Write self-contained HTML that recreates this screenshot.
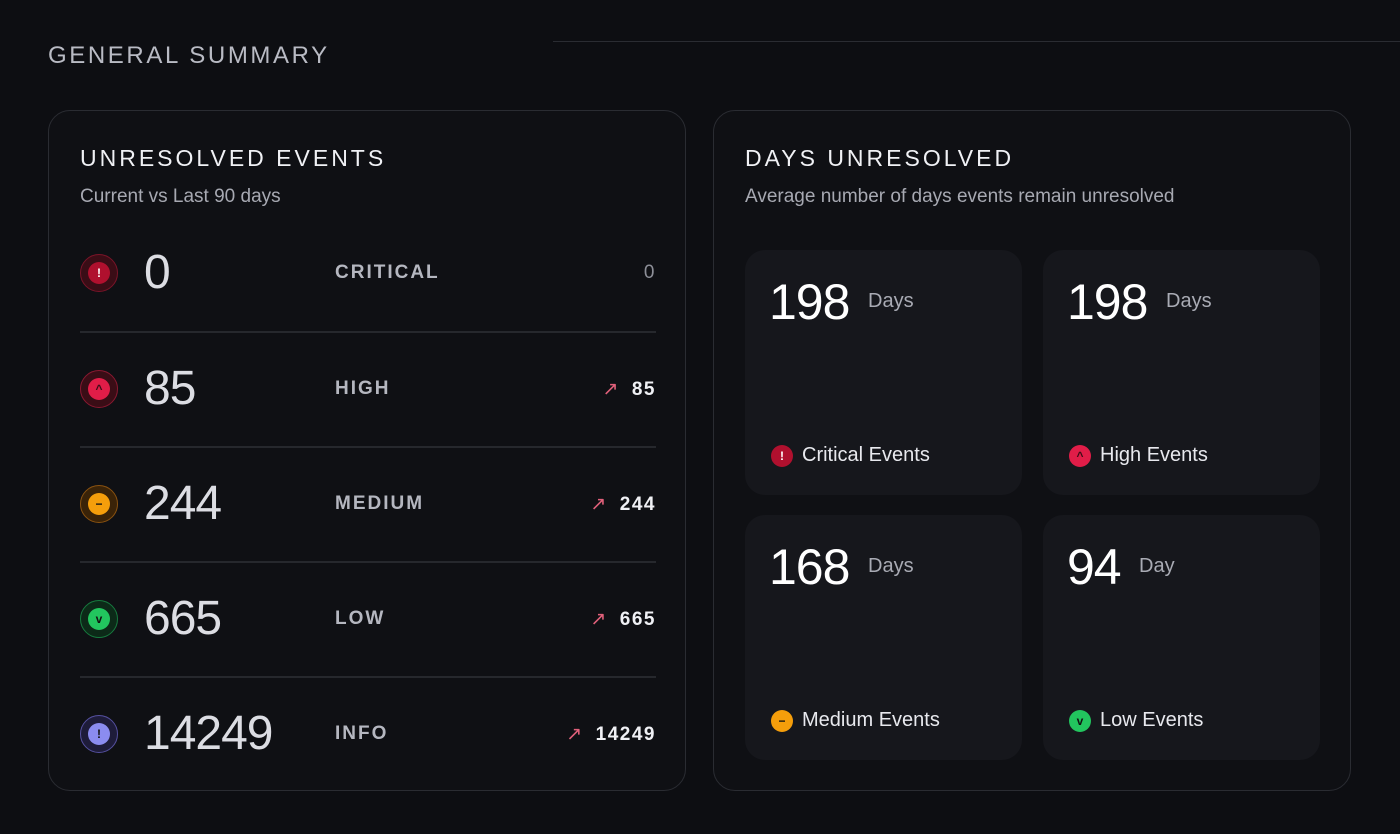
<!DOCTYPE html>
<html><head><meta charset="utf-8"><style>
*{margin:0;padding:0;box-sizing:border-box}
html{width:1400px;height:834px;overflow:hidden;background:#0d0e12}
body{width:1400px;height:834px;background:#0d0e12;font-family:"Liberation Sans",sans-serif;position:relative;overflow:hidden;color:#e6e7ec}
.abs{position:absolute}
.title{font-size:24px;letter-spacing:2.6px;color:#b9bbc4;left:48px;top:42px}
.card{position:absolute;top:110px;width:638px;height:681px;border:1.5px solid #2a2c32;border-radius:22px;background:#0f1014}
.h{position:absolute;left:31px;top:34px;font-size:23px;letter-spacing:3px;color:#f0f1f5}
.sub{position:absolute;left:31px;top:75px;font-size:19px;color:#a7a9b2}
.row{position:absolute;left:31px;width:576px;height:115px}
.row .ic{position:absolute;left:0;top:-19px;width:38px;height:38px;border-radius:50%;display:flex;align-items:center;justify-content:center}
.row .ic span{width:22px;height:22px;border-radius:50%;display:flex;align-items:center;justify-content:center;font-size:12px;font-weight:bold;color:#111}
.num{position:absolute;left:64px;top:-28px;font-size:48px;color:#dcdde3;line-height:56px;letter-spacing:-1px}
.lab{position:absolute;left:255px;top:-11px;font-size:19px;letter-spacing:2px;color:#b5b7c0;font-weight:bold}
.tr{position:absolute;right:0;top:-11px;font-size:19px;letter-spacing:1.5px;color:#f0f1f5;font-weight:bold}
.tr i{font-style:normal;color:#e0607a;margin-right:12px;font-weight:normal}
.div{position:absolute;left:31px;width:576px;height:1.5px;background:#26282d}
.tile{position:absolute;width:277px;height:245px;background:#16171c;border-radius:20px}
.tile .n{position:absolute;left:24px;top:24px;font-size:50px;color:#fff;line-height:56px;letter-spacing:-1px}
.tile .d{position:absolute;top:40px;font-size:20px;color:#a9abb4}
.tile .e{position:absolute;left:26px;top:194px;font-size:20px;color:#e8e9ee;display:flex;align-items:center}
.tile .e b{width:22px;height:22px;border-radius:50%;margin-right:9px;display:inline-flex;align-items:center;justify-content:center;font-size:12px;color:#fff}
</style></head><body>
<div class="abs title">GENERAL SUMMARY</div>
<div class="abs" style="left:553px;top:41px;width:847px;height:1px;background:#2a2c32"></div>

<div class="card" style="left:48px">
<div class="h">UNRESOLVED EVENTS</div>
<div class="sub">Current vs Last 90 days</div>
<div class="row" style="top:162px"><div class="ic" style="background:#3a0d16;border:1px solid #7a1428"><span style="background:#b0102e;color:#fff">!</span></div><div class="num">0</div><div class="lab">CRITICAL</div><div class="tr" style="color:#8d8f98;font-weight:normal">0</div></div>
<div class="div" style="top:220px"></div>
<div class="row" style="top:278px"><div class="ic" style="background:#3a0d16;border:1px solid #8a1830"><span style="background:#e11d48;color:#3a0d16">^</span></div><div class="num">85</div><div class="lab">HIGH</div><div class="tr"><i>↗</i>85</div></div>
<div class="div" style="top:335px"></div>
<div class="row" style="top:393px"><div class="ic" style="background:#3a2308;border:1px solid #8a5210"><span style="background:#f59e0b">−</span></div><div class="num">244</div><div class="lab">MEDIUM</div><div class="tr"><i>↗</i>244</div></div>
<div class="div" style="top:450px"></div>
<div class="row" style="top:508px"><div class="ic" style="background:#0c2a18;border:1px solid #167a3e"><span style="background:#22c55e">v</span></div><div class="num">665</div><div class="lab">LOW</div><div class="tr"><i>↗</i>665</div></div>
<div class="div" style="top:565px"></div>
<div class="row" style="top:623px"><div class="ic" style="background:#1e1c3a;border:1px solid #5550a0"><span style="background:#8b8cf0">!</span></div><div class="num">14249</div><div class="lab">INFO</div><div class="tr"><i>↗</i>14249</div></div>
</div>

<div class="card" style="left:713px">
<div class="h">DAYS UNRESOLVED</div>
<div class="sub">Average number of days events remain unresolved</div>
<div class="tile" style="left:31px;top:139px"><div class="n">198</div><div class="d" style="left:123px">Days</div><div class="e"><b style="background:#b0102e">!</b>Critical Events</div></div>
<div class="tile" style="left:329px;top:139px"><div class="n">198</div><div class="d" style="left:123px">Days</div><div class="e"><b style="background:#e11d48;color:#3a0d16">^</b>High Events</div></div>
<div class="tile" style="left:31px;top:404px"><div class="n">168</div><div class="d" style="left:123px">Days</div><div class="e"><b style="background:#f59e0b;color:#111">−</b>Medium Events</div></div>
<div class="tile" style="left:329px;top:404px"><div class="n">94</div><div class="d" style="left:96px">Day</div><div class="e"><b style="background:#22c55e;color:#111">v</b>Low Events</div></div>
</div>
</body></html>
